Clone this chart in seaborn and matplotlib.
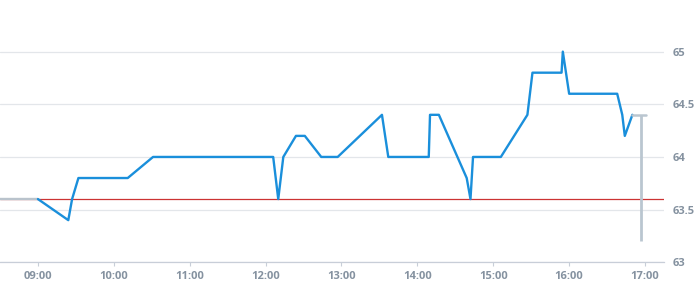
import matplotlib
matplotlib.use("Agg")
import matplotlib.pyplot as plt
import seaborn as sns
import pandas as pd

# ---- data ----
price_times = ["09:00", "09:24", "09:27", "09:32", "10:11", "10:31", "12:06", "12:10",
               "12:14", "12:24", "12:31", "12:44", "12:57", "13:32", "13:37", "14:09",
               "14:10", "14:17", "14:39", "14:42", "14:44", "15:06", "15:27", "15:29",
               "15:31", "15:54", "15:55", "16:00", "16:38", "16:42", "16:44", "16:50"]
price_values = [63.6, 63.4, 63.6, 63.8, 63.8, 64.0, 64.0, 63.6,
                64.0, 64.2, 64.2, 64.0, 64.0, 64.4, 64.0, 64.0,
                64.4, 64.4, 63.8, 63.6, 64.0, 64.0, 64.4, 64.6,
                64.8, 64.8, 65.0, 64.6, 64.6, 64.4, 64.2, 64.4]
pre_times = ["08:30", "09:00"]
pre_values = [63.6, 63.6]
ref_level = 63.6
last_times = ["16:50", "17:01"]
last_values = [64.4, 64.4]
range_time = "16:57"
range_values = [63.2, 64.4]
x_tick_labels = ["09:00", "10:00", "11:00", "12:00", "13:00", "14:00", "15:00", "16:00", "17:00"]
y_ticks = [63, 63.5, 64, 64.5, 65]
y_tick_labels = ["63", "63.5", "64", "64.5", "65"]
x_range = ["08:30", "17:15"]


def hours(s):
    h, m = s.split(":")
    return int(h) + int(m) / 60.0


sns.set_theme(style="white")
plt.rcParams['font.family'] = ['Open Sans', 'DejaVu Sans']

fig = plt.figure(figsize=(6.95, 3.0), dpi=100)
ax = fig.add_axes([0, 0.1257, 664 / 695, 0.8743])

grid_c = "#e3e6ea"
for yv in y_ticks:
    ax.axhline(yv, color=grid_c, lw=0.9, zorder=0)

ax.axhline(ref_level, color="#cc3333", lw=0.9, zorder=1)

pre_df = pd.DataFrame({"t": [hours(t) for t in pre_times], "v": pre_values})
sns.lineplot(data=pre_df, x="t", y="v", ax=ax, color="#b9c3cc", lw=1.7, zorder=2)

df = pd.DataFrame({"t": [hours(t) for t in price_times], "v": price_values})
sns.lineplot(data=df, x="t", y="v", ax=ax, color="#1a8fdb", lw=1.7, zorder=3)

last_df = pd.DataFrame({"t": [hours(t) for t in last_times], "v": last_values})
sns.lineplot(data=last_df, x="t", y="v", ax=ax, color="#bac6d0", lw=1.8, zorder=4)
ax.vlines(hours(range_time), range_values[0], range_values[1], color="#bac6d0", lw=2.0, zorder=4)

ax.set_xlim(hours(x_range[0]), hours(x_range[1]))
ax.set_ylim(63, 65.49)

ax.set_xticks([hours(t) for t in x_tick_labels])
ax.set_xticklabels(x_tick_labels)
ax.set_yticks(y_ticks)
ax.set_yticklabels(y_tick_labels)
ax.yaxis.tick_right()

lab_c = "#8592a0"
ax.tick_params(axis="x", length=3, width=0.8, color="#c8ced8", pad=3,
               labelsize=8, labelcolor=lab_c, bottom=True)
ax.tick_params(axis="y", length=0, pad=6.5, labelsize=8, labelcolor=lab_c)
for lab in ax.get_xticklabels() + ax.get_yticklabels():
    lab.set_fontweight("bold")

for side in ["top", "left", "right"]:
    ax.spines[side].set_visible(False)
ax.spines["bottom"].set_color("#c8ced8")
ax.spines["bottom"].set_linewidth(0.9)
ax.set_xlabel("")
ax.set_ylabel("")
ax.grid(False)

fig.savefig("out.png", dpi=100)
